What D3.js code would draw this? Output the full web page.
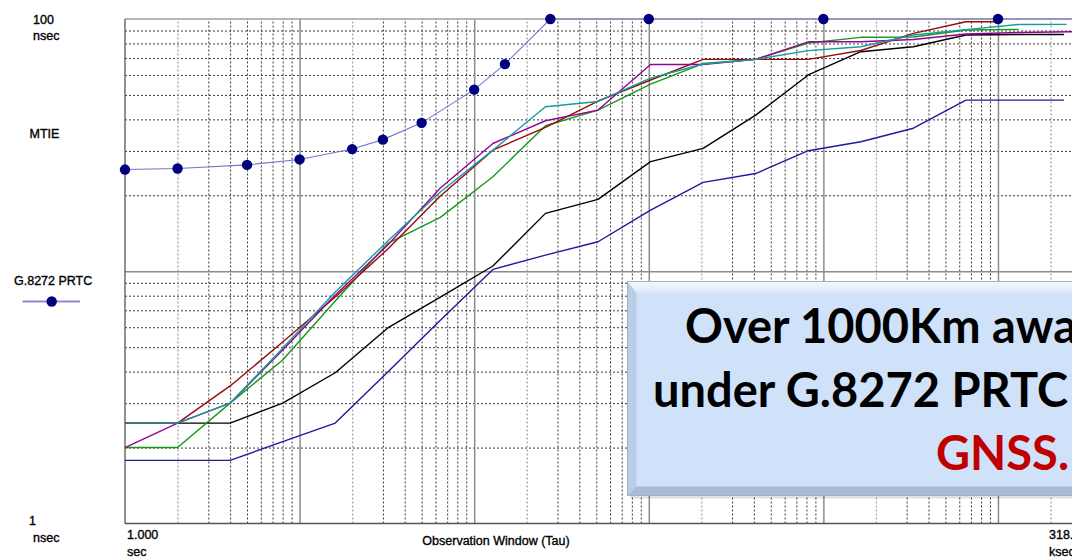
<!DOCTYPE html>
<html><head><meta charset="utf-8">
<script src="https://cdn.jsdelivr.net/npm/d3@7"></script>
<style>
body{margin:0;background:#fff;overflow:hidden}
svg{display:block}
.lbl{font-family:"Liberation Sans",Arial,sans-serif;font-size:12.5px;fill:#000;stroke:#000;stroke-width:0.35px}
</style>
</head><body>
<svg id="c" width="1072" height="557"></svg>
<script>
// ---------------- data ----------------
const tauPow2 = [1,2,4,8,16,32,64,128,256,512,1024,2048,4096,8192,16384,32768,65536,131072,262144];

const prtcTau  = [1,2,5,10,20,30,50,100,150,273,1000,10000,100000,318000];
const prtcMtie = [25.3,25.55,26.4,27.75,30.5,33.25,38.75,52.5,66.25,100,100,100,100,100];

const blueMtie   = [1.78,1.78,1.78,2.11,2.5,3.99,6.4,10.17,11.59,13.09,17.48,22.5,24.4,30.05,32.6,36.9,47.7,47.7];
const blackMtie  = [2.5,2.5,2.5,3.0,3.96,5.96,7.9,10.49,16.96,19.28,27.2,30.7,41.6,60.0,74.2,77.6,86.4,86.8];
const redMtie    = [2.5,2.5,3.51,5.24,7.9,12.25,19.87,30.2,37.2,47.3,57.3,69.2,69.2,69.2,75.0,87.7,97.5];
const greenMtie  = [2.0,2.0,3.0,4.45,7.62,12.9,16.36,23.7,37.75,43.55,55.2,66.6,69.2,80.3,84.6,84.8,90.4,91.0];
const purpleMtie = [2.0,2.5,3.0,4.87,8.05,12.7,21.37,32.1,39.5,43.55,66.0,66.0,69.2,81.2,81.2,82.9,87.2,88.4,89.0];
const tealMtie   = [2.5,2.5,3.0,4.95,8.27,13.17,20.6,30.2,44.9,47.1,58.3,66.3,69.2,74.9,77.6,86.4,90.8,95.1];

// last observation window of each trace [tau, mtie]
const blueEnd   = [239000, 47.7];
const blackEnd  = [239000, 86.8];
const redEnd    = [100000, 97.5];
const greenEnd  = null;
const purpleEnd = [318000, 89.0];
const tealEnd   = [247000, 95.2];

const yTickLabels = [["100","nsec"],["1","nsec"]];
const xTickLabels = [["1.000","sec"],["318.310","ksec"]];
const xTitle = "Observation Window (Tau)";
const yTitle = "MTIE";
const legendLabel = "G.8272 PRTC";
const noteLines = ["Over 1000Km away and still", "under G.8272 PRTC without", "GNSS."];

// ---------------- drawing ----------------
const svg = d3.select("#c");
const L = 125, R = 1085.7, T = 19, B = 523.5;
const x = d3.scaleLog().domain([1, 318000]).range([L, R]);
const y = d3.scaleLog().domain([1, 100]).range([B, T]);

svg.append("rect").attr("width",1072).attr("height",557).attr("fill","#fff");

const decades = [1,10,100,1000,10000,100000];
const minorX2 = [], minorXo = [], majorX = [];
decades.forEach(d => {
  for (let m = 2; m <= 9; m++) {
    const v = m*d; if (v > 318000) continue;
    (m === 2 ? minorX2 : minorXo).push(v);
  }
  if (d > 1) majorX.push(d);
});
const minorY = [];
[1,10].forEach(d => { for (let m = 2; m <= 9; m++) minorY.push(m*d); });

function gridX(vals, color, dash, w) {
  svg.append("g").attr("transform",`translate(0,${B})`)
    .call(d3.axisBottom(x).tickValues(vals).tickSize(-(B-T)).tickFormat(""))
    .call(g => { g.select(".domain").remove();
      g.selectAll("line").attr("stroke",color).attr("stroke-width",w).attr("stroke-dasharray",dash); });
}
function gridY(vals, color, dash, w) {
  svg.append("g").attr("transform",`translate(${L},0)`)
    .call(d3.axisLeft(y).tickValues(vals).tickSize(-(R-L)).tickFormat(""))
    .call(g => { g.select(".domain").remove();
      g.selectAll("line").attr("stroke",color).attr("stroke-width",w).attr("stroke-dasharray",dash); });
}
gridY(minorY, "#3a3a3a", "2,2", 1);
gridX(minorXo, "#3a3a3a", "2,2", 1);
gridX(minorX2, "#a8a8a8", "2,2", 1.3);
gridX(majorX, "#8c8c8c", null, 1.5);
gridY([10], "#8c8c8c", null, 1.5);

// frame
svg.append("line").attr("x1",L).attr("x2",R).attr("y1",T).attr("y2",T).attr("stroke","#a0a0a0").attr("stroke-width",1.3);
svg.append("line").attr("x1",L).attr("x2",L).attr("y1",T).attr("y2",B).attr("stroke","#555").attr("stroke-width",1.3);
svg.append("line").attr("x1",L).attr("x2",R).attr("y1",B).attr("y2",B).attr("stroke","#555").attr("stroke-width",1.3);

const line = d3.line().x(d => x(d[0])).y(d => y(d[1]));
const traces = [
  {vals: blueMtie,   end: blueEnd,   color: "#1b1b9c"},
  {vals: blackMtie,  end: blackEnd,  color: "#000000"},
  {vals: greenMtie,  end: greenEnd,  color: "#159a15"},
  {vals: redMtie,    end: redEnd,    color: "#9a0a0a"},
  {vals: purpleMtie, end: purpleEnd, color: "#980098"},
  {vals: tealMtie,   end: tealEnd,   color: "#159c9c"}
];
traces.forEach(t => {
  const pts = t.vals.map((v,i) => [tauPow2[i], v]);
  if (t.end) pts.push(t.end);
  svg.append("path").attr("d", line(pts)).attr("fill","none")
     .attr("stroke", t.color).attr("stroke-width",1.4).attr("stroke-linejoin","round");
});

// PRTC mask
const prtc = prtcTau.map((t,i) => [t, prtcMtie[i]]);
svg.append("path").attr("d", line(prtc)).attr("fill","none").attr("stroke","#7676cc").attr("stroke-width",1.1);
svg.selectAll("circle.m").data(prtc).join("circle").attr("class","m")
  .attr("cx", d => x(d[0])).attr("cy", d => y(d[1])).attr("r",5.2).attr("fill","#00007f");

// labels
const txt = (s, X, Y, anchor) =>
  svg.append("text").attr("class","lbl").attr("x",X).attr("y",Y).attr("text-anchor",anchor||"start").text(s);
txt(yTickLabels[0][0], 33, 23.5);
txt(yTickLabels[0][1], 33, 39.5);
txt(yTitle, 29.5, 137.5);
txt(yTickLabels[1][0], 29, 525);
txt(yTickLabels[1][1], 33, 542);
txt(xTickLabels[0][0], 127, 538.5);
txt(xTickLabels[0][1], 127, 555.5);
txt(xTickLabels[1][0], 1049, 538.5);
txt(xTickLabels[1][1], 1049, 555.5);
txt(xTitle, 496, 545, "middle");
txt(legendLabel, 14, 285);
svg.append("line").attr("x1",22.5).attr("x2",80).attr("y1",301.5).attr("y2",301.5).attr("stroke","#8c8cd6").attr("stroke-width",2);
svg.append("circle").attr("cx",51.7).attr("cy",301.5).attr("r",5.2).attr("fill","#00007f");

// annotation box (bevel)
const bx0 = 627.5, by0 = 281.5, bx1 = 1140, by1 = 495.5, bv = 9;
svg.append("rect").attr("x",bx0+3).attr("y",by0+3).attr("width",bx1-bx0).attr("height",by1-by0).attr("fill","#000").attr("opacity",0.12);
const defs = svg.append("defs");
const gTop = defs.append("linearGradient").attr("id","gt").attr("x1",0).attr("y1",0).attr("x2",0).attr("y2",1);
gTop.append("stop").attr("offset",0).attr("stop-color","#f4f8fe");
gTop.append("stop").attr("offset",1).attr("stop-color","#d9e8fb");
svg.append("rect").attr("x",bx0).attr("y",by0).attr("width",bx1-bx0).attr("height",by1-by0).attr("fill","#cfe2f9");
svg.append("polygon").attr("points",`${bx0},${by0} ${bx1},${by0} ${bx1-bv},${by0+bv+3} ${bx0+bv},${by0+bv+3}`).attr("fill","url(#gt)");
svg.append("polygon").attr("points",`${bx0},${by0} ${bx0+bv},${by0+bv+3} ${bx0+bv},${by1-bv} ${bx0},${by1}`).attr("fill","#b9cde6");
svg.append("polygon").attr("points",`${bx0},${by1} ${bx0+bv},${by1-bv} ${bx1-bv},${by1-bv} ${bx1},${by1}`).attr("fill","#a9bcd3");
svg.append("rect").attr("x",bx0).attr("y",by0).attr("width",bx1-bx0).attr("height",by1-by0).attr("fill","none").attr("stroke","#9fb2c9").attr("stroke-width",1);

const noteX = [685, 653, 936], noteY = [342.5, 406.5, 470];
noteLines.forEach((s,i) => {
  svg.append("text").attr("x",noteX[i]).attr("y",noteY[i])
    .attr("font-family","Lato, 'Open Sans', sans-serif").attr("font-weight",700).attr("font-size",47)
    .attr("fill", i === 2 ? "#c00000" : "#000").text(s);
});
</script>
</body></html>
